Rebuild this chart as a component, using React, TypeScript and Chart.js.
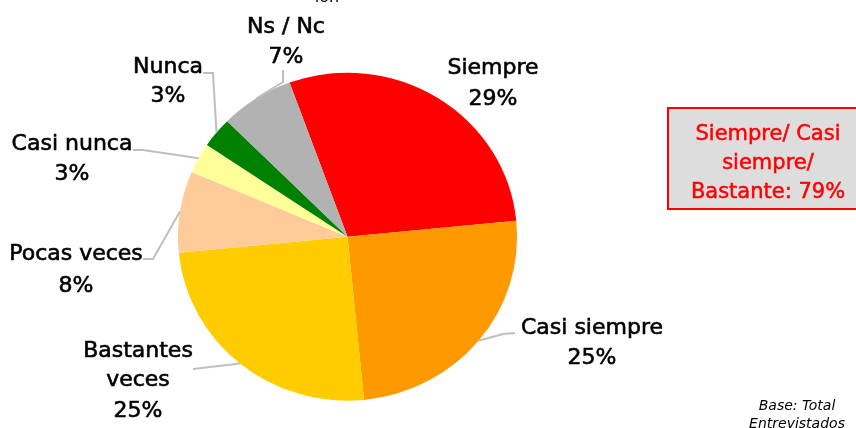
import React, { useEffect, useRef } from "react";
import { Chart, registerables } from "chart.js";

Chart.register(...registerables);

const categories = ["Siempre", "Casi siempre", "Bastantes veces", "Pocas veces", "Casi nunca", "Nunca", "Ns / Nc"];
const values = [29, 25, 25, 8, 3, 3, 7];
const colors = ["#FF0000", "#FF9900", "#FFCC00", "#FFCC99", "#FFFF99", "#008000", "#B2B2B2"];
const boxLines = ["Siempre/ Casi", "siempre/", "Bastante: 79%"];
const baseLines = ["Base: Total", "Entrevistados"];

// label layout (text lines, position, leader elbows)
const labelLayout: { lines: string[]; x: number; y: number[]; leader: number[][] | null }[] = [
  { lines: ["Siempre", "29%"], x: 493, y: [74, 105], leader: null },
  { lines: ["Casi siempre", "25%"], x: 592, y: [334, 364], leader: [[503, 334], [515, 333]] },
  { lines: ["Bastantes", "veces", "25%"], x: 138, y: [357, 386, 417], leader: [[193, 369]] },
  { lines: ["Pocas veces", "8%"], x: 76, y: [260, 292], leader: [[153, 259], [143, 259]] },
  { lines: ["Casi nunca", "3%"], x: 72, y: [150, 180], leader: [[143, 150], [133, 150]] },
  { lines: ["Nunca", "3%"], x: 168, y: [73, 102], leader: [[213, 73], [203, 73]] },
  { lines: ["Ns / Nc", "7%"], x: 286, y: [33, 63], leader: [[283, 82], [283, 70]] },
];

const SX = 1.034;

function heavyText(ctx: CanvasRenderingContext2D, t: string, x: number, y: number, w: number) {
  ctx.fillText(t, x, y);
  ctx.lineWidth = w;
  ctx.strokeStyle = ctx.fillStyle as string;
  ctx.strokeText(t, x, y);
}

export default function App() {
  const ref = useRef<HTMLCanvasElement | null>(null);
  useEffect(() => {
    if (!ref.current) return;
    const ellipse = {
      id: "ellipse",
      beforeDatasetsDraw(chart: any) {
        const a = chart.chartArea;
        const cx = (a.left + a.right) / 2;
        const cy = (a.top + a.bottom) / 2;
        const ctx = chart.ctx;
        ctx.save();
        ctx.translate(cx, cy);
        ctx.scale(SX, 1);
        ctx.translate(-cx, -cy);
      },
      afterDatasetsDraw(chart: any) {
        chart.ctx.restore();
      },
    };
    const labels = {
      id: "labels",
      afterDraw(chart: any) {
        const ctx = chart.ctx as CanvasRenderingContext2D;
        const meta = chart.getDatasetMeta(0);
        ctx.save();
        // cut-off title fragment at the very top
        ctx.fillStyle = "#000";
        ctx.font = "16px 'DejaVu Sans'";
        ctx.textAlign = "center";
        ctx.textBaseline = "alphabetic";
        ctx.fillText("ión", 327, 2);

        meta.data.forEach((arc: any, i: number) => {
          const L = labelLayout[i];
          const mid = (arc.startAngle + arc.endAngle) / 2;
          const ex = arc.x + Math.cos(mid) * arc.outerRadius * SX;
          const ey = arc.y + Math.sin(mid) * arc.outerRadius;
          if (L.leader) {
            ctx.strokeStyle = "#BFBFBF";
            ctx.lineWidth = 2;
            ctx.beginPath();
            ctx.moveTo(ex, ey);
            L.leader.forEach((p) => ctx.lineTo(p[0], p[1]));
            ctx.stroke();
          }
          ctx.fillStyle = "#000";
          ctx.font = "22px 'DejaVu Sans'";
          ctx.textAlign = "center";
          ctx.textBaseline = "alphabetic";
          L.lines.forEach((t, j) => heavyText(ctx, t, L.x, L.y[j], 0.6));
        });

        // summary box
        ctx.fillStyle = "#DDDDDD";
        ctx.fillRect(668, 108, 200, 101);
        ctx.strokeStyle = "#FF0000";
        ctx.lineWidth = 2;
        ctx.strokeRect(668, 108, 200, 101);
        ctx.fillStyle = "#FF0000";
        ctx.font = "21px 'DejaVu Sans'";
        ctx.textAlign = "center";
        const by = [140, 169, 198];
        boxLines.forEach((t, j) => heavyText(ctx, t, 768, by[j], 0.5));

        // base note
        ctx.fillStyle = "#000";
        ctx.font = "italic 14px 'DejaVu Sans'";
        const bl = [410, 428];
        baseLines.forEach((t, j) => ctx.fillText(t, 797, bl[j]));
        ctx.restore();
      },
    };
    const chart = new Chart(ref.current, {
      type: "pie",
      data: {
        labels: categories,
        datasets: [{ data: values, backgroundColor: colors, borderWidth: 0, hoverOffset: 0 }],
      },
      options: {
        responsive: false,
        animation: false,
        rotation: -20,
        layout: { padding: { left: 183.5, right: 344.5, top: 72.7, bottom: 27.3 } },
        plugins: { legend: { display: false }, tooltip: { enabled: false } },
        events: [],
      },
      plugins: [ellipse, labels],
    } as any);
    return () => chart.destroy();
  }, []);
  return (
    <div style={{ position: "fixed", left: 0, top: 0, width: 856, height: 428, background: "#fff" }}>
      <canvas ref={ref} width={856} height={428} style={{ width: 856, height: 428, display: "block" }} />
    </div>
  );
}
